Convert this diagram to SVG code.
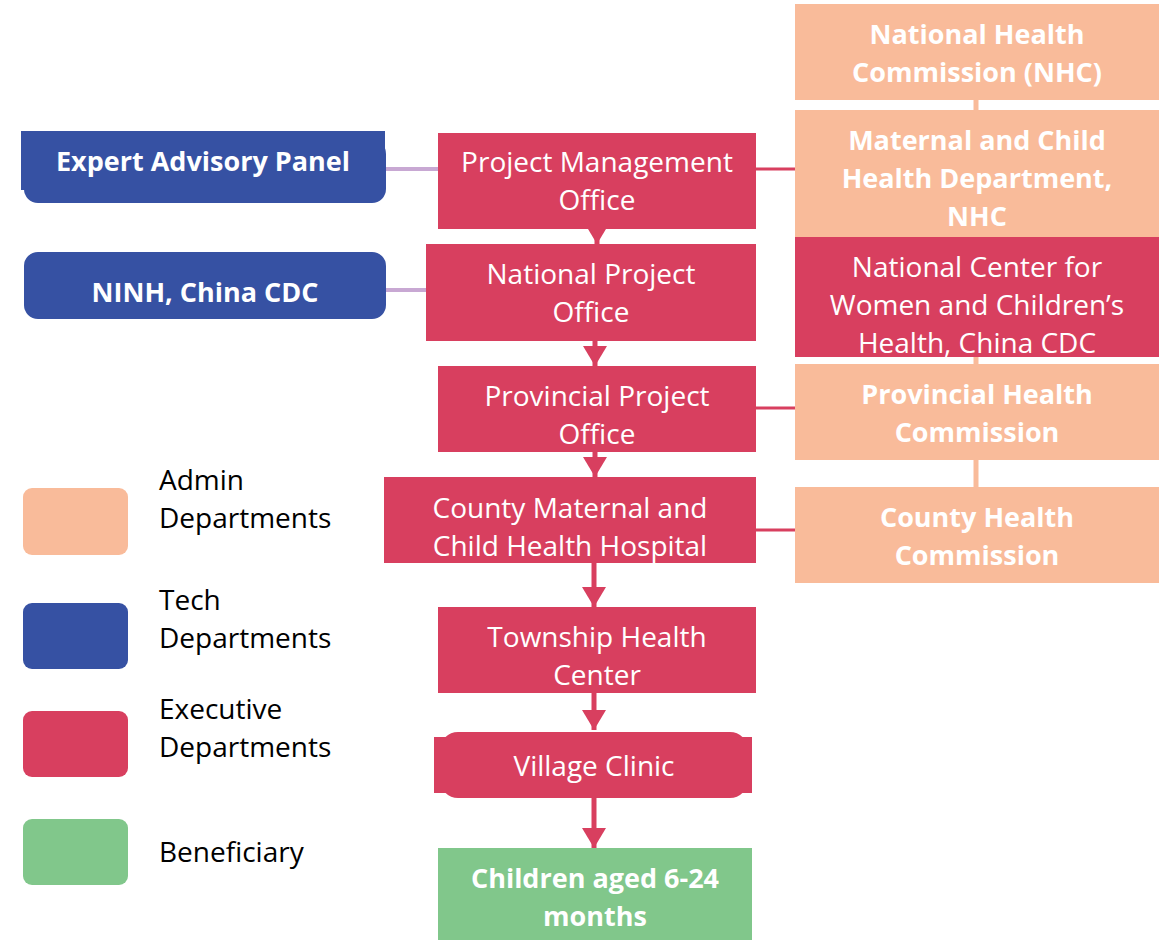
<svg xmlns="http://www.w3.org/2000/svg" width="1160" height="941" viewBox="0 0 1160 941">
<style>
.exe{fill:#d83f5f}
.tech{fill:#3651a3}
.adm{fill:#f9bb9a}
.ben{fill:#81c78b}
text{font-family:"Open Sans","Liberation Sans",sans-serif;text-anchor:middle;fill:#fff}
.r{font-size:28px}
.b{font-size:27px;font-weight:bold}
.lg{font-size:28px;fill:#000;text-anchor:start}
.flow{stroke:#d83f5f;stroke-width:5;fill:none}
.side{stroke:#d83f5f;stroke-width:3;fill:none}
.tl{stroke:#c8a8d3;stroke-width:4;fill:none}
.al{stroke:#f9bb9a;stroke-width:5;fill:none}
</style>
<defs>
<marker id="ah" markerUnits="userSpaceOnUse" markerWidth="24" markerHeight="24" refX="20" refY="12" orient="auto">
<path d="M0,0 L20,12 L0,24 Z" fill="#d83f5f"/>
</marker>
</defs>
<rect width="1160" height="941" fill="#fff"/>
<g id="connectors">
<line class="tl" x1="386" y1="169" x2="438" y2="169"/>
<line class="tl" x1="386" y1="290" x2="426" y2="290"/>
<line class="side" x1="756" y1="169" x2="795" y2="169"/>
<line class="side" x1="756" y1="408" x2="795" y2="408"/>
<line class="side" x1="756" y1="530" x2="795" y2="530"/>
<line class="al" x1="976" y1="100" x2="976" y2="110"/>
<line class="al" x1="976" y1="357" x2="976" y2="364"/>
<line class="al" x1="976" y1="460" x2="976" y2="487"/>
<line class="flow" x1="597" y1="229" x2="597" y2="244" marker-end="url(#ah)"/>
<line class="flow" x1="595" y1="341" x2="595" y2="366" marker-end="url(#ah)"/>
<line class="flow" x1="595" y1="452" x2="595" y2="477" marker-end="url(#ah)"/>
<line class="flow" x1="594" y1="563" x2="594" y2="607" marker-end="url(#ah)"/>
<line class="flow" x1="594" y1="693" x2="594" y2="730" marker-end="url(#ah)"/>
<line class="flow" x1="594" y1="798" x2="594" y2="848" marker-end="url(#ah)"/>
</g>
<g id="expert-panel">
<rect class="tech" x="24" y="140" width="362" height="63" rx="14"/>
<rect class="tech" x="21" y="131" width="364" height="59"/>
<text class="b" x="203" y="171">Expert Advisory Panel</text>
</g>
<g id="ninh">
<rect class="tech" x="24" y="252" width="362" height="67" rx="14"/>
<text class="b" x="205" y="302">NINH, China CDC</text>
</g>
<g id="pmo">
<rect class="exe" x="438" y="133" width="318" height="96"/>
<text class="r" x="597" y="172">Project Management</text>
<text class="r" x="597" y="210">Office</text>
</g>
<g id="npo">
<rect class="exe" x="426" y="244" width="330" height="97"/>
<text class="r" x="591" y="284">National Project</text>
<text class="r" x="591" y="322">Office</text>
</g>
<g id="ppo">
<rect class="exe" x="438" y="366" width="318" height="86"/>
<text class="r" x="597" y="406">Provincial Project</text>
<text class="r" x="597" y="444">Office</text>
</g>
<g id="county-mch">
<rect class="exe" x="384" y="477" width="372" height="86"/>
<text class="r" x="570" y="518">County Maternal and</text>
<text class="r" x="570" y="556">Child Health Hospital</text>
</g>
<g id="township">
<rect class="exe" x="438" y="607" width="318" height="86"/>
<text class="r" x="597" y="647">Township Health</text>
<text class="r" x="597" y="685">Center</text>
</g>
<g id="village">
<rect class="exe" x="440" y="732" width="308" height="66" rx="18"/>
<rect class="exe" x="434" y="737" width="318" height="56"/>
<text class="r" x="594" y="776">Village Clinic</text>
</g>
<g id="children">
<rect class="ben" x="438" y="848" width="314" height="92"/>
<text class="b" x="595" y="888">Children aged 6-24</text>
<text class="b" x="595" y="926">months</text>
</g>
<g id="nhc">
<rect class="adm" x="795" y="4" width="364" height="96"/>
<text class="b" x="977" y="44">National Health</text>
<text class="b" x="977" y="82">Commission (NHC)</text>
</g>
<g id="mch-dept">
<rect class="adm" x="795" y="110" width="364" height="127"/>
<text class="b" x="977" y="150">Maternal and Child</text>
<text class="b" x="977" y="188">Health Department,</text>
<text class="b" x="977" y="226">NHC</text>
</g>
<g id="ncwch">
<rect class="exe" x="795" y="237" width="364" height="120"/>
<text class="r" x="977" y="277">National Center for</text>
<text class="r" x="977" y="315">Women and Children’s</text>
<text class="r" x="977" y="353">Health, China CDC</text>
</g>
<g id="phc">
<rect class="adm" x="795" y="364" width="364" height="96"/>
<text class="b" x="977" y="404">Provincial Health</text>
<text class="b" x="977" y="442">Commission</text>
</g>
<g id="chc">
<rect class="adm" x="795" y="487" width="364" height="96"/>
<text class="b" x="977" y="527">County Health</text>
<text class="b" x="977" y="565">Commission</text>
</g>
<g id="legend">
<rect class="adm" x="23" y="488" width="105" height="67" rx="9"/>
<rect class="tech" x="23" y="603" width="105" height="66" rx="9"/>
<rect class="exe" x="23" y="711" width="105" height="66" rx="9"/>
<rect class="ben" x="23" y="819" width="105" height="66" rx="9"/>
<text class="lg" x="159" y="490">Admin</text>
<text class="lg" x="159" y="528">Departments</text>
<text class="lg" x="159" y="610">Tech</text>
<text class="lg" x="159" y="648">Departments</text>
<text class="lg" x="159" y="719">Executive</text>
<text class="lg" x="159" y="757">Departments</text>
<text class="lg" x="159" y="862">Beneficiary</text>
</g>
</svg>
